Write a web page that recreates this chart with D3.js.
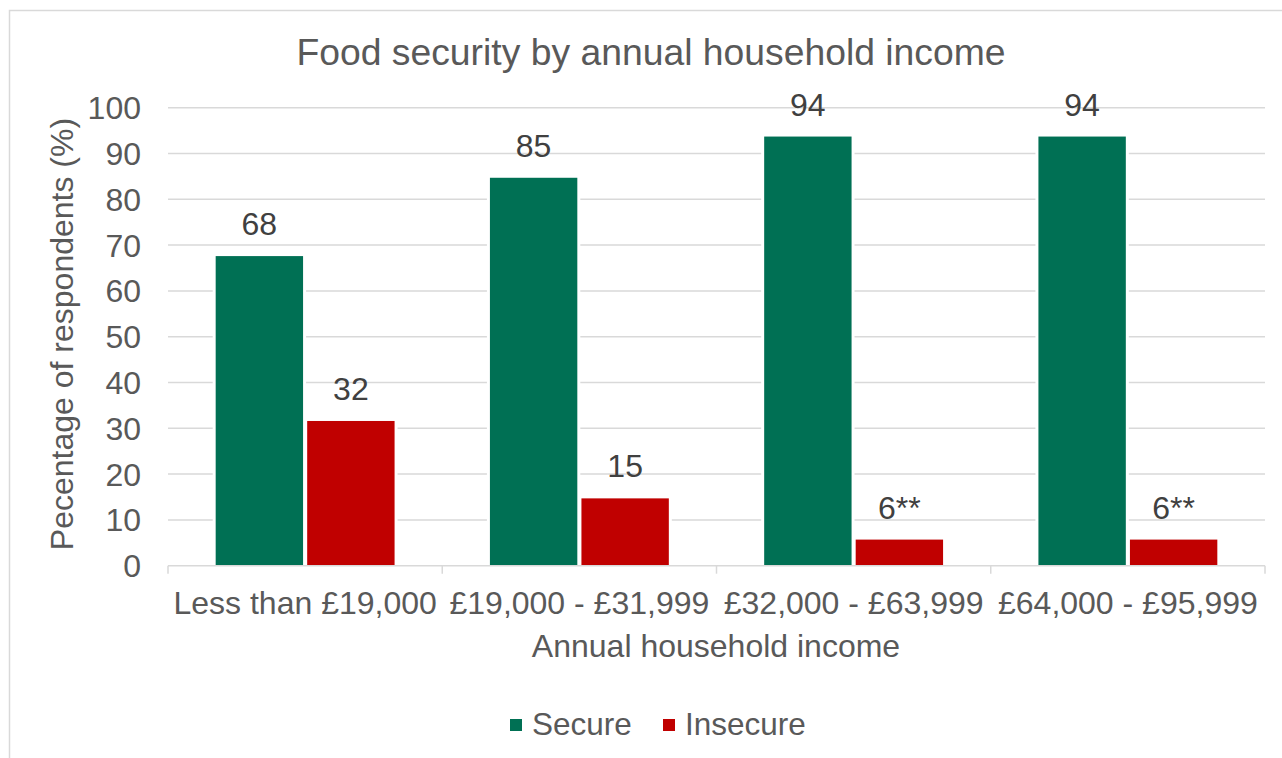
<!DOCTYPE html>
<html>
<head>
<meta charset="utf-8">
<script src="https://cdn.jsdelivr.net/npm/d3@7"></script>
<style>
  body { margin: 0; background: #fff; }
  text { font-family: "Liberation Sans", Arial, sans-serif; }
</style>
</head>
<body>
<script>
// data
var categories = ["Less than £19,000", "£19,000 - £31,999", "£32,000 - £63,999", "£64,000 - £95,999"];
var seriesNames = ["Secure", "Insecure"];
var secureValues = [67.6, 84.7, 93.7, 93.7];
var insecureValues = [31.6, 14.7, 5.7, 5.7];
var secureLabels = ["68", "85", "94", "94"];
var insecureLabels = ["32", "15", "6**", "6**"];
var yTicks = [0, 10, 20, 30, 40, 50, 60, 70, 80, 90, 100];

var colors = { "Secure": "#007054", "Insecure": "#c00000" };

var w = 1282;
var h = 758;

var svg = d3.select("body")
            .append("svg")
            .attr("width", w)
            .attr("height", h);

// chart frame
svg.append("rect")
    .attr("x", 9.5)
    .attr("y", 10.5)
    .attr("width", 1400)
    .attr("height", 900)
    .attr("fill", "#fff")
    .attr("stroke", "#d9d9d9")
    .attr("stroke-width", 1.5);

var plotLeft = 168, plotRight = 1265, plotTop = 107.7, plotBottom = 565.7;

var y = d3.scaleLinear().domain([0, 100]).range([plotBottom, plotTop]);
var x0 = d3.scaleBand().domain(categories).range([plotLeft, plotRight]);
var x1 = d3.scaleBand().domain(seriesNames).range([0, x0.bandwidth()])
            .paddingInner(0.045).paddingOuter(0.521);

var rows = categories.map(function(c, i) {
    return {
        cat: c,
        bars: [
            { name: "Secure", value: secureValues[i], label: secureLabels[i] },
            { name: "Insecure", value: insecureValues[i], label: insecureLabels[i] }
        ]
    };
});

// gridlines
svg.append("g")
    .selectAll("line")
    .data(yTicks.filter(function(d) { return d > 0; }))
    .enter()
    .append("line")
    .attr("x1", plotLeft)
    .attr("x2", plotRight)
    .attr("y1", function(d) { return y(d); })
    .attr("y2", function(d) { return y(d); })
    .attr("stroke", "#d9d9d9")
    .attr("stroke-width", 1.5);

// y tick labels
svg.append("g")
    .selectAll("text")
    .data(yTicks)
    .enter()
    .append("text")
    .attr("x", 141)
    .attr("y", function(d) { return y(d); })
    .attr("dy", "0.36em")
    .attr("text-anchor", "end")
    .attr("font-size", 32)
    .attr("fill", "#595959")
    .text(function(d) { return d; });

// bars
var groups = svg.append("g")
    .selectAll("g")
    .data(rows)
    .enter()
    .append("g")
    .attr("transform", function(d) { return "translate(" + x0(d.cat) + ",0)"; });

groups.selectAll("rect")
    .data(function(d) { return d.bars; })
    .enter()
    .append("rect")
    .attr("x", function(d) { return x1(d.name); })
    .attr("y", function(d) { return y(d.value); })
    .attr("width", x1.bandwidth())
    .attr("height", function(d) { return plotBottom - y(d.value); })
    .attr("fill", function(d) { return colors[d.name]; })
    .attr("stroke", "#fff")
    .attr("stroke-width", 6)
    .style("paint-order", "stroke");

groups.selectAll("text")
    .data(function(d) { return d.bars; })
    .enter()
    .append("text")
    .attr("x", function(d) { return x1(d.name) + x1.bandwidth() / 2; })
    .attr("y", function(d) { return y(d.value) - 21; })
    .attr("text-anchor", "middle")
    .attr("font-size", 32)
    .attr("fill", "#404040")
    .text(function(d) { return d.label; });

// x axis
var xAxis = d3.axisBottom(x0).tickSize(0).tickPadding(0);
var xg = svg.append("g")
    .attr("transform", "translate(0," + plotBottom + ")")
    .call(xAxis);
xg.select(".domain")
    .attr("stroke", "#d9d9d9")
    .attr("stroke-width", 1.5)
    .attr("d", "M" + plotLeft + ",0H" + plotRight);
xg.selectAll(".tick text")
    .attr("y", 614 - plotBottom)
    .attr("dy", 0)
    .attr("font-size", 32)
    .attr("font-family", "Liberation Sans, Arial, sans-serif")
    .attr("fill", "#595959");

// category boundary ticks
var bounds = categories.map(function(c) { return x0(c); }).concat([plotRight]);
svg.append("g")
    .selectAll("line")
    .data(bounds)
    .enter()
    .append("line")
    .attr("x1", function(d) { return d; })
    .attr("x2", function(d) { return d; })
    .attr("y1", plotBottom)
    .attr("y2", plotBottom + 8)
    .attr("stroke", "#d9d9d9")
    .attr("stroke-width", 1.5);

// titles
svg.append("text")
    .attr("x", 651)
    .attr("y", 65)
    .attr("text-anchor", "middle")
    .attr("font-size", 37.3)
    .attr("fill", "#595959")
    .text("Food security by annual household income");

svg.append("text")
    .attr("x", 716)
    .attr("y", 657)
    .attr("text-anchor", "middle")
    .attr("font-size", 32)
    .attr("fill", "#595959")
    .text("Annual household income");

svg.append("text")
    .attr("transform", "translate(73," + 334 + ") rotate(-90)")
    .attr("text-anchor", "middle")
    .attr("font-size", 32)
    .attr("fill", "#595959")
    .text("Pecentage of respondents (%)");

// legend
var legendX = [510, 663];
var legend = svg.append("g")
    .selectAll("g")
    .data(seriesNames)
    .enter()
    .append("g")
    .attr("transform", function(d, i) { return "translate(" + legendX[i] + ",719)"; });

legend.append("rect")
    .attr("width", 12)
    .attr("height", 12)
    .attr("fill", function(d) { return colors[d]; });

legend.append("text")
    .attr("x", 22)
    .attr("y", 16)
    .attr("font-size", 31.5)
    .attr("fill", "#595959")
    .text(function(d) { return d; });
</script>
</body>
</html>
